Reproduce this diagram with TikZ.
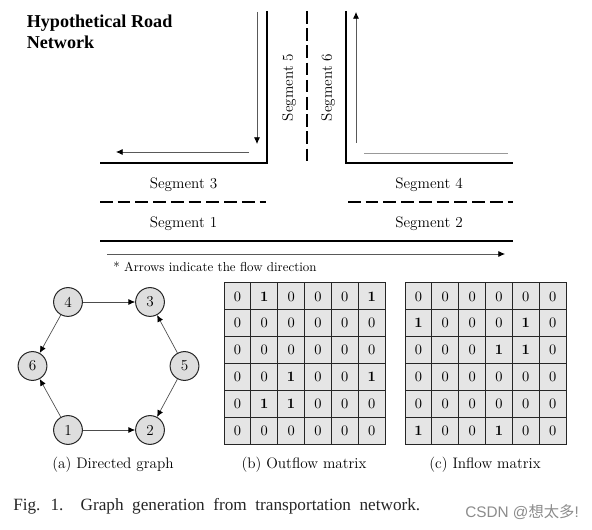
\documentclass[tikz,border=0pt]{standalone}
\usepackage{fontspec}
\setmainfont{Liberation Serif}
\newfontfamily\lbl{Latin Modern Roman}
\newfontfamily\cjk{Noto Sans CJK SC}
\newfontfamily\wm{Liberation Sans}
\newfontfamily\capf[WordSpace=2]{Liberation Serif}
\usetikzlibrary{arrows.meta}
\tikzset{
  road/.style={line width=2.2pt,line cap=butt,line join=miter,black},
  lane/.style={line width=1pt,dash pattern=on 9.5pt off 3.8pt,black},
  flow/.style={line width=0.55pt,draw=black!65,-{Latex[length=5pt,width=4.5pt,black]}},
  txt/.style={font=\lbl\fontsize{11.4}{13}\selectfont,inner sep=0pt,text=black},
  gnode/.style={circle,draw=black!85,line width=0.75pt,fill=black!13,minimum size=21.6pt,inner sep=0pt,font=\lbl\fontsize{11.4}{13}\selectfont},
  edge/.style={line width=0.5pt,draw=black!70,-{Latex[length=5pt,width=4.5pt,black]}},
  cell/.style={draw=black!85,line width=0.75pt,fill=black!10,minimum size=20.1pt,inner sep=0pt,font=\lbl\fontsize{10.8}{12}\selectfont},
  one/.style={font=\lbl\bfseries\fontsize{10.8}{12}\selectfont},
}
% #1 = name prefix, #2 = left x (px), #3 = list of cells holding a one
\newcommand{\gridmatrix}[3]{%
  \foreach \r in {1,...,6}{\foreach \c in {1,...,6}{%
    \def\isone{0}%
    \foreach \p in {#3}{\ifnum\p=\numexpr\r*10+\c\relax\global\def\isone{1}\fi}%
    \ifnum\isone=1
      \node[cell,one] (#1\r\c) at ({#2+13.4+(\c-1)*26.85},{283+13.4+(\r-1)*26.85}) {1};
    \else
      \node[cell] (#1\r\c) at ({#2+13.4+(\c-1)*26.85},{283+13.4+(\r-1)*26.85}) {0};
    \fi
    \global\def\isone{0}%
  }}%
}
\begin{document}
\begin{tikzpicture}[x=0.75pt,y=-0.75pt]
\useasboundingbox (0,0) rectangle (592,530);
\fill[white] (0,0) rectangle (592,530);
% title
\node[anchor=west,font=\bfseries\fontsize{13.6}{15.6}\selectfont,align=left,inner sep=0pt] (title) at (26.5,31.5) {Hypothetical Road\\Network};
% road edges
\coordinate (ltop) at (267,11); \coordinate (lcorner) at (267,163); \coordinate (lend) at (100,163);
\coordinate (rtop) at (346,11); \coordinate (rcorner) at (346,163); \coordinate (rend) at (513,163);
\coordinate (bl) at (100,241); \coordinate (br) at (513,241);
\draw[road] (ltop) -- (lcorner) -- (lend);
\draw[road] (rtop) -- (rcorner) -- (rend);
\draw[road] (bl) -- (br);
% lane dividers
\coordinate (d1a) at (100,202); \coordinate (d1b) at (266,202);
\coordinate (d2a) at (348,202); \coordinate (d2b) at (513,202);
\coordinate (d3a) at (307,11); \coordinate (d3b) at (307,164);
\draw[lane] (d1a) -- (d1b);
\draw[lane] (d2a) -- (d2b);
\draw[lane,dash pattern=on 9.5pt off 3.4pt] (d3a) -- (d3b);
% flow arrows
\coordinate (f1a) at (257,12); \coordinate (f1b) at (257,144);
\coordinate (f2a) at (249,152); \coordinate (f2b) at (116,152);
\coordinate (f3a) at (356,143); \coordinate (f3b) at (356,12);
\coordinate (f4a) at (364,153); \coordinate (f4b) at (508,153);
\coordinate (f5a) at (107,254); \coordinate (f5b) at (505,254);
\draw[flow] (f1a) -- (f1b);
\draw[flow] (f2a) -- (f2b);
\draw[flow] (f3a) -- (f3b);
\draw[line width=0.7pt,draw=black!40] (f4a) -- (f4b);
\draw[flow] (f5a) -- (f5b);
% segment labels
\node[txt] (s3) at (183.5,185) {Segment 3};
\node[txt] (s1) at (183.5,224) {Segment 1};
\node[txt] (s4) at (429,185) {Segment 4};
\node[txt] (s2) at (429,224) {Segment 2};
\node[txt,rotate=90] (s5) at (289,87.5) {Segment 5};
\node[txt,rotate=90] (s6) at (328,87.5) {Segment 6};
\node[txt,font=\lbl\fontsize{9.7}{12}\selectfont] (note) at (215,267) {* Arrows indicate the flow direction};
% graph
\node[gnode] (n4) at (68,302) {4};
\node[gnode] (n3) at (150,302) {3};
\node[gnode] (n6) at (32.5,366) {6};
\node[gnode] (n5) at (184.5,366) {5};
\node[gnode] (n1) at (68,430) {1};
\node[gnode] (n2) at (150,430) {2};
\draw[edge] (n4) -- (n3);
\draw[edge] (n4) -- (n6);
\draw[edge] (n1) -- (n6);
\draw[edge] (n1) -- (n2);
\draw[edge] (n5) -- (n3);
\draw[edge] (n5) -- (n2);
% matrices
\gridmatrix{o}{224}{12,16,43,46,52,53}
\gridmatrix{i}{405}{21,25,34,35,61,64}
% captions
\node[txt] (ca) at (113,465) {(a) Directed graph};
\node[txt] (cb) at (304,465) {(b) Outflow matrix};
\node[txt] (cc) at (485,465) {(c) Inflow matrix};
\node[anchor=west,inner sep=0pt,font=\capf\fontsize{12.9}{14}\selectfont,text=black!85] (fig) at (13,506) {Fig. 1.\hspace{1em}Graph generation from transportation network.};
\node[anchor=west,inner sep=0pt,text=black!45,font=\wm\fontsize{11.5}{13}\selectfont] (mark) at (465,512) {CSDN @{\cjk 想太多}!};
\end{tikzpicture}
\end{document}
